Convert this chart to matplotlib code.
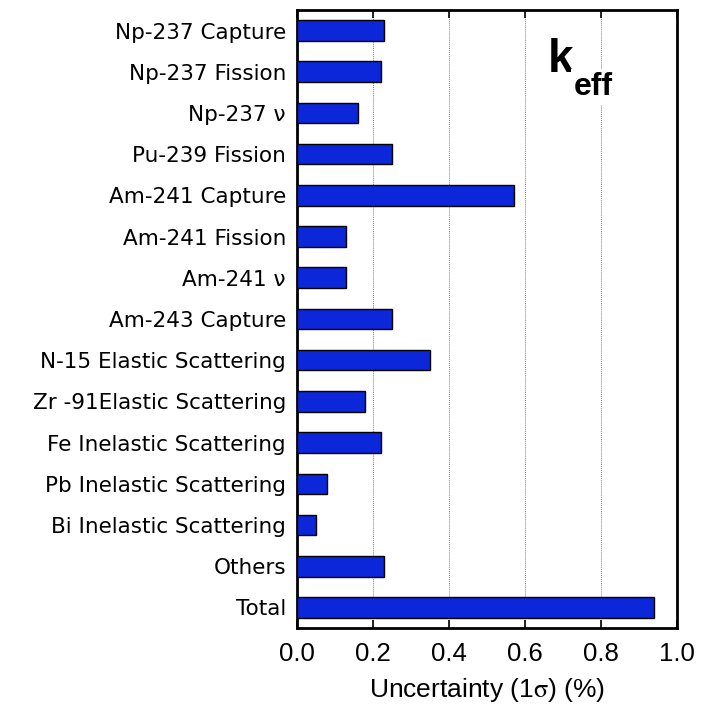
import matplotlib
matplotlib.use("Agg")
import matplotlib.pyplot as plt

plt.rcParams["mathtext.fontset"] = "stix"

labels = [
    "Np-237 Capture", "Np-237 Fission", "Np-237 \u03bd", "Pu-239 Fission",
    "Am-241 Capture", "Am-241 Fission", "Am-241 \u03bd", "Am-243 Capture",
    "N-15 Elastic Scattering", "Zr -91Elastic Scattering",
    "Fe Inelastic Scattering", "Pb Inelastic Scattering",
    "Bi Inelastic Scattering", "Others", "Total",
]
values = [0.23, 0.22, 0.16, 0.25, 0.57, 0.13, 0.13, 0.25,
          0.35, 0.18, 0.22, 0.08, 0.05, 0.23, 0.94]
xticks = [0.0, 0.2, 0.4, 0.6, 0.8, 1.0]

fig = plt.figure(figsize=(7.01, 7.11), dpi=100)
ax = fig.add_axes([0.4237, 0.1167, 0.5421, 0.8693])

pos = list(range(len(labels)))
ax.barh(pos, values, height=0.5, color="#0b27d9", edgecolor="black",
        linewidth=1.0, zorder=3)

ax.set_ylim(len(labels) - 0.5, -0.5)
ax.set_xlim(0, 1.0)
ax.set_yticks(pos)
ax.set_yticklabels(labels, fontsize=15.5, family="DejaVu Sans")
ax.set_xticks(xticks)
ax.set_xticklabels([f"{t:.1f}" for t in xticks], fontsize=18.5,
                   family="Liberation Sans")
ax.tick_params(axis="y", length=0, pad=8)
ax.tick_params(axis="x", direction="in", length=6, width=1.2, top=True,
               pad=10)

ax.xaxis.grid(True, color="gray", linestyle=(0, (1, 1)), linewidth=0.7,
              zorder=0)
for s in ax.spines.values():
    s.set_linewidth(2)

ax.set_xlabel("Uncertainty (1$\\mathrm{\\sigma}$) (%)", fontsize=19,
              family="Liberation Sans", labelpad=7)

# k_eff label, drawn as two pieces so the subscript sits low
box = dict(facecolor="white", edgecolor="none", pad=2)
ax.text(0.66, 1.0, "k", fontsize=33, fontweight="bold",
        family="Liberation Sans", va="baseline", ha="left", zorder=4,
        bbox=box)
ax.text(0.729, 1.56, "eff", fontsize=23, fontweight="bold",
        family="Liberation Sans", va="baseline", ha="left", zorder=4,
        bbox=box)

fig.savefig("out.png", dpi=100)
